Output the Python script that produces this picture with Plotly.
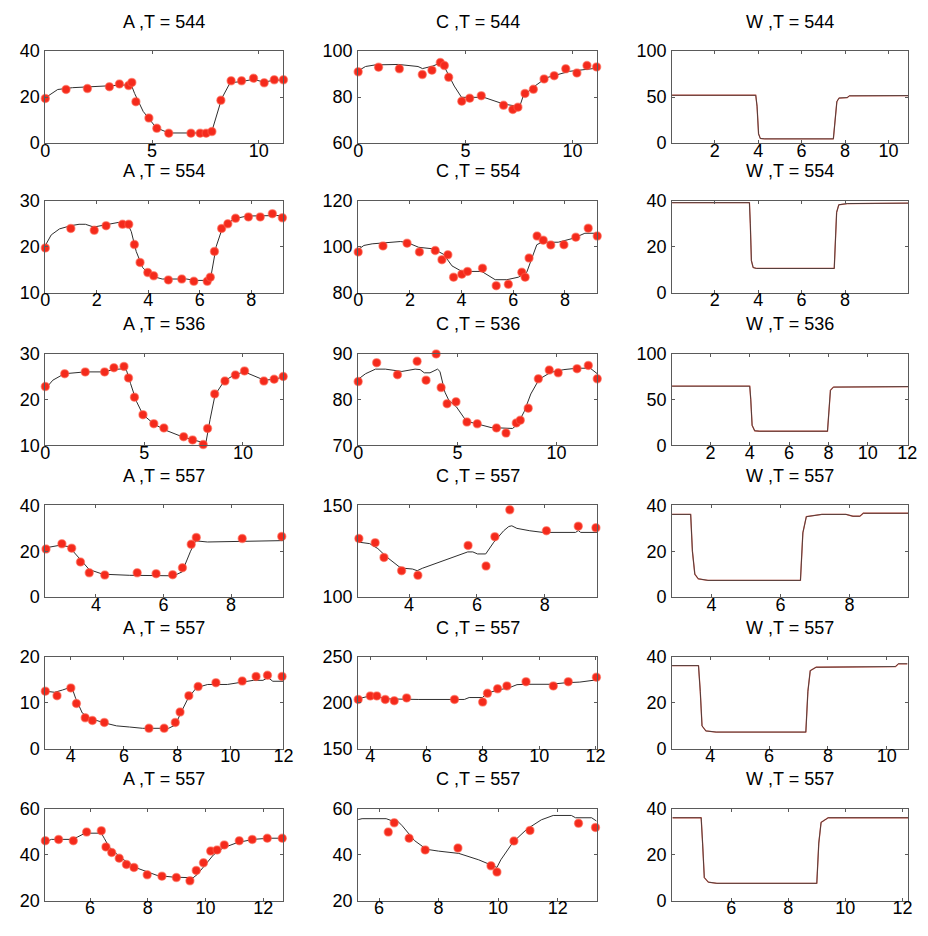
import plotly.graph_objects as go

# ---------------- data ----------------
# Row 1, T = 544
A544_PTS = [(0,19.4),(0.97,23.3),(1.97,23.7),(3.0,24.5),(3.47,25.7),(3.9,25.0),(4.05,26.4),(4.24,18.0),
            (4.85,10.9),(5.22,6.4),(5.78,4.3),(6.82,4.3),(7.25,4.3),(7.53,4.3),(7.8,5.0),(8.22,18.6),
            (8.7,27.1),(9.19,27.1),(9.75,28.2),(10.25,26.2),(10.72,27.5),(11.15,27.5)]
A544_LINE = [(0,19.7),(0.58,23.3),(1.27,24.1),(2.73,24.8),(3.35,24.8),(3.89,25.1),(4.02,25.4),(4.18,21.6),
             (4.58,13.8),(5.19,6.7),(5.78,4.4),(7.65,4.4),(7.8,5.2),(8.26,19.4),(8.65,26.2),(9.19,26.8),
             (9.75,27.7),(10.25,26.5),(10.72,27.4),(11.15,27.4)]
C544_PTS = [(0,91.0),(0.95,93.0),(1.92,92.3),(2.99,89.8),(3.44,91.7),(3.83,95.0),(4.02,93.7),(4.22,88.6),
            (4.83,78.2),(5.2,79.5),(5.74,80.6),(6.78,76.4),(7.21,74.6),(7.45,75.6),(7.78,81.6),(8.17,83.4),
            (8.67,87.9),(9.14,89.3),(9.68,92.3),(10.2,90.5),(10.67,93.7),(11.12,93.1)]
C544_LINE = [(0,91.4),(0.34,93.3),(0.8,94.0),(1.87,94.2),(2.79,93.3),(3.0,92.4),(3.48,93.5),(3.79,94.7),
             (3.99,93.7),(4.25,89.1),(4.48,84.8),(4.82,79.9),(5.86,79.9),(6.78,77.0),(7.35,76.1),(7.55,76.4),
             (7.7,80.6),(8.24,84.8),(8.77,88.4),(9.85,91.2),(10.08,91.4),(10.3,91.9),(11.15,92.6)]
W544_LINE = [(0.04,52),(3.89,52),(3.95,40),(4.02,10),(4.1,5),(4.3,4.6),(7.46,4.6),(7.55,30),(7.62,45),
             (7.72,49),(8.1,49.5),(8.2,51.4),(10.9,51.6)]

# Row 2, T = 554
A554_PTS = [(0,19.75),(0.99,24.0),(1.9,23.6),(2.36,24.6),(3.0,24.9),(3.24,24.9),(3.46,20.5),(3.68,16.6),
            (3.98,14.4),(4.21,13.7),(4.78,12.8),(5.3,13.0),(5.77,12.5),(6.29,12.5),(6.41,13.4),(6.57,19.0),
            (6.85,24.0),(7.09,25.0),(7.39,26.2),(7.89,26.5),(8.35,26.5),(8.82,27.2),(9.21,26.3)]
A554_LINE = [(0,20.3),(0.23,22.6),(0.55,23.9),(0.99,24.6),(1.31,24.9),(1.56,24.9),(1.88,24.3),(2.26,24.7),
             (2.83,25.3),(3.17,25.3),(3.34,23.3),(3.53,19.0),(3.78,15.5),(4.1,13.7),(4.54,13.0),(5.49,13.0),
             (5.81,12.7),(6.32,12.7),(6.45,14.1),(6.64,20.1),(6.89,24.3),(7.34,26.1),(7.84,26.7),(8.98,26.8),
             (9.25,26.8)]
C554_PTS = [(0,97.8),(0.96,100.4),(1.89,101.6),(2.37,97.8),(2.98,98.4),(3.24,94.4),(3.47,96.5),(3.69,86.8),
            (4.01,88.1),(4.23,89.3),(4.81,90.7),(5.34,83.1),(5.81,83.7),(6.33,88.9),(6.46,86.8),(6.61,95.1),
            (6.92,104.7),(7.16,102.9),(7.45,100.8),(7.96,100.9),(8.42,104.2),(8.9,108.1),(9.25,104.7)]
C554_LINE = [(0,98.8),(0.22,100.6),(0.54,101.3),(1.18,102.0),(1.63,102.3),(1.89,101.9),(2.34,99.8),
             (2.92,99.1),(3.31,96.7),(3.63,91.7),(4.01,89.3),(4.78,89.3),(5.3,85.7),(5.75,85.7),(6.2,86.8),
             (6.52,88.9),(6.91,100.9),(7.1,102.0),(7.74,102.0),(8.32,103.7),(8.77,105.9),(9.25,105.9)]
W554_LINE = [(0.04,39.2),(3.6,39.2),(3.64,30),(3.69,14),(3.77,11),(3.92,10.6),(7.5,10.6),(7.55,20),
             (7.61,35),(7.71,38.3),(8.1,38.8),(10.9,39.0)]

# Row 3, T = 536
A536_PTS = [(0,22.8),(0.98,25.6),(2.02,26.0),(3.0,26.0),(3.47,26.9),(3.98,27.2),(4.21,24.7),(4.51,20.5),
            (4.94,16.7),(5.49,14.75),(6.0,13.8),(7.0,11.9),(7.45,11.2),(7.99,10.2),(8.21,13.7),(8.57,21.2),
            (9.09,24.0),(9.62,25.3),(10.08,26.2),(11.06,24.0),(11.58,24.4),(12.04,25.0)]
A536_LINE = [(0,22.3),(0.38,24.2),(0.96,25.6),(2.02,26.0),(2.95,26.0),(3.45,26.5),(3.98,26.7),(4.11,26.3),
             (4.31,23.5),(4.61,19.6),(4.94,16.7),(5.52,14.6),(6.1,13.3),(6.93,11.9),(7.93,10.7),(8.13,10.7),
             (8.34,15.7),(8.59,21.0),(9.05,24.0),(9.58,25.4),(10.08,26.0),(10.58,25.1),(11.08,24.2),
             (11.58,24.4),(12.05,24.9)]
C536_PTS = [(0,83.9),(0.93,88.0),(1.98,85.4),(2.97,88.3),(3.42,84.2),(3.93,89.9),(4.18,82.6),(4.48,79.1),
            (4.93,79.5),(5.48,75.1),(6.0,74.7),(6.97,73.8),(7.45,72.7),(7.97,74.9),(8.17,75.5),(8.57,78.1),
            (9.08,84.5),(9.63,86.4),(10.08,85.8),(11.03,86.7),(11.6,87.4),(12.05,84.5)]
C536_LINE = [(0,84.4),(0.37,85.6),(0.87,86.6),(1.37,86.6),(2.2,86.1),(2.87,86.6),(3.12,86.5),(3.33,85.8),
             (3.62,85.8),(4.0,86.6),(4.12,86.1),(4.37,81.6),(4.57,79.8),(4.95,78.4),(5.45,75.3),(6.03,74.7),
             (6.7,73.9),(7.78,73.7),(8.03,74.6),(8.37,77.4),(8.7,81.2),(9.12,84.4),(9.7,85.9),(10.37,86.5),
             (11.03,86.8),(11.7,86.8),(12.05,85.6)]
W536_LINE = [(0.05,64.5),(4.0,64.5),(4.05,50),(4.12,22),(4.25,16),(4.5,15.5),(7.95,15.5),(8.02,40),
             (8.1,60),(8.25,63.5),(12.05,64)]

# Row 4, T = 557
A557a_PTS = [(2.52,20.9),(2.99,23.2),(3.28,21.3),(3.54,15.3),(3.8,10.6),(4.26,9.6),(5.22,10.6),(5.78,10.2),
             (6.27,9.8),(6.56,12.8),(6.82,23.0),(6.97,26.0),(8.33,25.5),(9.5,26.4)]
A557a_LINE = [(2.52,21.5),(2.9,22.5),(3.2,22.0),(3.5,17.0),(3.8,12.0),(4.2,10.0),(5.0,9.5),(6.3,9.3),
              (6.55,11.0),(6.8,20.0),(6.95,24.5),(7.3,24.0),(8.0,24.2),(9.0,24.5),(9.55,24.6)]
C557a_PTS = [(2.52,131.9),(3.0,129.6),(3.26,121.6),(3.78,114.4),(4.26,111.9),(5.74,128.1),(6.27,116.9),
             (6.53,132.9),(6.97,147.5),(8.05,136.1),(8.99,138.6),(9.51,137.7)]
C557a_LINE = [(2.52,129.9),(2.84,129.1),(3.08,126.4),(3.33,122.0),(3.71,116.5),(3.86,115.7),(4.1,115.3),
              (4.24,114.4),(4.39,115.7),(5.73,124.6),(5.88,124.6),(6.02,123.5),(6.26,123.5),(6.5,129.9),
              (6.79,136.1),(6.94,138.4),(7.03,138.8),(7.18,137.4),(7.56,136.1),(7.95,135.2),(8.91,135.2),
              (8.99,136.2),(9.06,135.2),(9.55,135.2)]
W557a_LINE = [(2.86,36),(3.4,36),(3.45,20),(3.52,10),(3.62,8),(3.9,7.3),(6.58,7.3),(6.65,28),(6.75,35),
              (7.2,36),(7.9,36),(8.1,35.2),(8.3,35.2),(8.4,36.5),(9.7,36.5)]

# Row 5, T = 557
A557b_PTS = [(3.04,12.55),(3.48,11.56),(4.0,13.26),(4.21,9.86),(4.54,6.74),(4.81,6.17),(5.26,5.74),
             (6.94,4.47),(7.51,4.47),(7.93,5.74),(8.11,8.0),(8.44,11.56),(8.79,13.55),(9.46,14.4),
             (10.45,14.75),(10.97,15.74),(11.4,16.0),(11.95,15.74)]
A557b_LINE = [(3.04,12.55),(3.39,12.3),(3.69,12.8),(3.94,13.3),(4.06,13.0),(4.18,11.0),(4.43,7.8),(4.74,6.6),
              (5.23,5.7),(5.72,5.0),(6.21,4.75),(6.7,4.47),(7.68,4.47),(7.93,5.2),(8.17,8.2),(8.42,11.1),
              (8.73,13.3),(9.15,14.0),(9.89,14.0),(10.38,14.4),(10.87,14.9),(11.23,14.9),(11.42,15.5),
              (11.6,14.7),(12.0,14.7)]
C557b_PTS = [(3.57,203.7),(4.0,207.5),(4.23,207.5),(4.53,203.7),(4.85,202.3),(5.29,205.4),(6.99,203.7),
             (7.99,200.9),(8.16,210.4),(8.52,215.3),(8.85,218.4),(9.53,223.0),(10.5,218.4),(11.03,223.0),
             (12.03,227.9)]
C557b_LINE = [(3.57,204.4),(3.94,207.2),(4.29,207.2),(4.47,204.4),(5.7,203.7),(7.34,203.7),(7.51,205.8),
              (7.98,205.8),(8.16,210.7),(8.57,214.2),(8.92,216.3),(9.21,219.8),(9.5,220.2),(10.38,220.2),
              (10.96,221.9),(11.44,222.6),(11.96,224.7),(12.05,227.2)]
W557b_LINE = [(2.7,36.2),(3.6,36.2),(3.66,25),(3.72,10),(3.85,7.8),(4.2,7.3),(7.25,7.3),(7.32,25),(7.4,34),
              (7.6,35.5),(10.3,35.8),(10.4,37),(10.7,37)]

# Row 6, T = 557
A557c_PTS = [(4.45,46.0),(4.91,46.6),(5.42,46.0),(5.88,49.8),(6.39,50.4),(6.55,43.3),(6.75,40.9),(7.01,38.4),
             (7.26,35.7),(7.52,34.4),(7.98,31.2),(8.49,30.6),(8.99,30.0),(9.46,28.6),(9.68,33.1),(9.93,36.4),
             (10.18,41.5),(10.4,42.0),(10.65,44.2),(11.17,46.0),(11.62,46.6),(12.14,47.1),(12.66,47.1)]
A557c_LINE = [(4.45,45.4),(4.66,46.6),(5.35,46.6),(5.56,47.6),(5.83,49.3),(6.39,49.3),(6.5,46.9),(6.66,43.3),
              (7.08,38.4),(7.63,34.1),(8.33,30.9),(8.88,30.2),(9.57,29.9),(9.71,31.3),(9.99,35.5),(10.27,39.8),
              (10.61,42.9),(11.1,45.2),(11.65,46.6),(12.2,47.1),(12.7,47.1)]
C557c_PTS = [(5.27,51.7),(6.31,49.8),(6.51,53.8),(7.01,47.1),(7.55,42.0),(8.65,42.8),(9.76,35.1),(9.96,32.4),
             (10.53,45.9),(11.07,50.5),(12.7,53.6),(13.27,51.8)]
C557c_LINE = [(5.27,55.1),(5.43,55.6),(6.24,55.6),(6.45,54.6),(6.58,55.1),(6.78,52.5),(7.19,46.1),(7.59,42.3),
              (8.0,41.5),(8.68,40.5),(9.35,37.7),(9.82,35.3),(9.96,34.4),(10.09,37.7),(10.5,45.4),(10.97,51.1),
              (11.45,55.1),(11.85,57.0),(12.46,57.0),(12.6,56.0),(13.14,56.0),(13.3,54.6)]
W557c_LINE = [(3.95,36),(4.95,36),(5.0,25),(5.06,10),(5.2,8),(5.5,7.5),(9.0,7.5),(9.07,25),(9.15,34),
              (9.4,36),(12.95,36)]

TITLES = ["A ,T = 544", "C ,T = 544", "W ,T = 544",
          "A ,T = 554", "C ,T = 554", "W ,T = 554",
          "A ,T = 536", "C ,T = 536", "W ,T = 536",
          "A ,T = 557", "C ,T = 557", "W ,T = 557",
          "A ,T = 557", "C ,T = 557", "W ,T = 557",
          "A ,T = 557", "C ,T = 557", "W ,T = 557"]

# axis ranges and ticks per panel
X_RANGES = [[0, 11.15], [0, 11.15], [0.04, 10.9],
            [0, 9.25], [0, 9.25], [0.04, 10.9],
            [0, 12.05], [0, 12.05], [0.05, 12.05],
            [2.5, 9.55], [2.5, 9.55], [2.86, 9.7],
            [3.04, 12.0], [3.57, 12.06], [2.7, 10.73],
            [4.45, 12.7], [5.3, 13.33], [3.93, 12.2]]
Y_RANGES = [[0, 40], [60, 100], [0, 100],
            [10, 30], [80, 120], [0, 40],
            [10, 30], [70, 90], [0, 100],
            [0, 40], [100, 150], [0, 40],
            [0, 20], [150, 250], [0, 40],
            [20, 60], [20, 60], [0, 40]]
X_TICKS = [[0, 5, 10], [0, 5, 10], [2, 4, 6, 8, 10],
           [0, 2, 4, 6, 8], [0, 2, 4, 6, 8], [2, 4, 6, 8],
           [0, 5, 10], [0, 5, 10], [2, 4, 6, 8, 10, 12],
           [4, 6, 8], [4, 6, 8], [4, 6, 8],
           [4, 6, 8, 10, 12], [4, 6, 8, 10, 12], [4, 6, 8, 10],
           [6, 8, 10, 12], [6, 8, 10, 12], [6, 8, 10, 12]]
Y_TICKS = [[0, 20, 40], [60, 80, 100], [0, 50, 100],
           [10, 20, 30], [80, 100, 120], [0, 20, 40],
           [10, 20, 30], [70, 80, 90], [0, 50, 100],
           [0, 20, 40], [100, 150], [0, 20, 40],
           [0, 10, 20], [150, 200, 250], [0, 20, 40],
           [20, 40, 60], [20, 40, 60], [0, 20, 40]]

PANEL_DATA = [(A544_PTS, A544_LINE), (C544_PTS, C544_LINE), (None, W544_LINE),
              (A554_PTS, A554_LINE), (C554_PTS, C554_LINE), (None, W554_LINE),
              (A536_PTS, A536_LINE), (C536_PTS, C536_LINE), (None, W536_LINE),
              (A557a_PTS, A557a_LINE), (C557a_PTS, C557a_LINE), (None, W557a_LINE),
              (A557b_PTS, A557b_LINE), (C557b_PTS, C557b_LINE), (None, W557b_LINE),
              (A557c_PTS, A557c_LINE), (C557c_PTS, C557c_LINE), (None, W557c_LINE)]

# ---------------- layout geometry (pixels) ----------------
W_PX, H_PX = 928, 936
COL_X = [(41, 283), (359, 602), (678, 918)]
ROW_TOP = [42, 195, 351, 506, 661, 816]
ROW_H = 94

FONT = "Liberation Sans, Arial, Helvetica, sans-serif"
AXCOL = "#5a5a5a"
RED = "rgb(244,42,28)"
LINECOL = "#2e2e2e"
FS = 18

fig = go.Figure()
layout = dict(width=W_PX, height=H_PX, margin=dict(l=0, r=0, t=0, b=0),
              paper_bgcolor="white", plot_bgcolor="white", showlegend=False,
              font=dict(family=FONT, size=FS, color="black"))
annotations = []

for i in range(18):
    r, c = divmod(i, 3)
    n = i + 1
    xa = "x" if n == 1 else f"x{n}"
    ya = "y" if n == 1 else f"y{n}"
    x0, x1 = COL_X[c]
    top = ROW_TOP[r]
    bot = top + ROW_H
    dom_x = [x0 / W_PX, x1 / W_PX]
    dom_y = [1 - bot / H_PX, 1 - top / H_PX]
    axis_common = dict(showline=True, linecolor=AXCOL, linewidth=1, mirror="ticks",
                       ticks="inside", ticklen=3, tickcolor=AXCOL, tickwidth=1,
                       showgrid=False, zeroline=False,
                       tickfont=dict(family=FONT, size=FS, color="black"))
    layout["xaxis" if n == 1 else f"xaxis{n}"] = dict(
        domain=dom_x, anchor=ya, range=X_RANGES[i], tickvals=X_TICKS[i],
        ticklabelstandoff=-9, **axis_common)
    layout["yaxis" if n == 1 else f"yaxis{n}"] = dict(
        domain=dom_y, anchor=xa, range=Y_RANGES[i], tickvals=Y_TICKS[i],
        ticklabelstandoff=1, **axis_common)

    pts, line = PANEL_DATA[i]
    lx = [p[0] for p in line]
    ly = [p[1] for p in line]
    if pts is None:
        fig.add_trace(go.Scatter(x=lx, y=ly, mode="lines", xaxis=xa, yaxis=ya,
                                 line=dict(color="rgba(230,60,40,0.8)", width=1.3), hoverinfo="skip"))
        fig.add_trace(go.Scatter(x=lx, y=ly, mode="lines", xaxis=xa, yaxis=ya,
                                 line=dict(color="#3a3a3a", width=0.9), hoverinfo="skip"))
    else:
        fig.add_trace(go.Scatter(x=lx, y=ly, mode="lines", xaxis=xa, yaxis=ya,
                                 line=dict(color=LINECOL, width=1), hoverinfo="skip"))
        fig.add_trace(go.Scatter(x=[p[0] for p in pts], y=[p[1] for p in pts], mode="markers",
                                 xaxis=xa, yaxis=ya, cliponaxis=False,
                                 marker=dict(color=RED, size=8,
                                             line=dict(color="rgba(255,90,70,0.55)", width=1.5)),
                                 hoverinfo="skip"))
    annotations.append(dict(text=TITLES[i], xref="paper", yref="paper",
                            x=(dom_x[0] + dom_x[1]) / 2, y=1 - (top - 30) / H_PX,
                            xanchor="center", yanchor="middle", showarrow=False,
                            font=dict(family=FONT, size=FS, color="black")))

layout["annotations"] = annotations
fig.update_layout(**layout)
fig.write_html("out.html", config={"displayModeBar": False},
               post_script="document.body.style.margin='0';")
